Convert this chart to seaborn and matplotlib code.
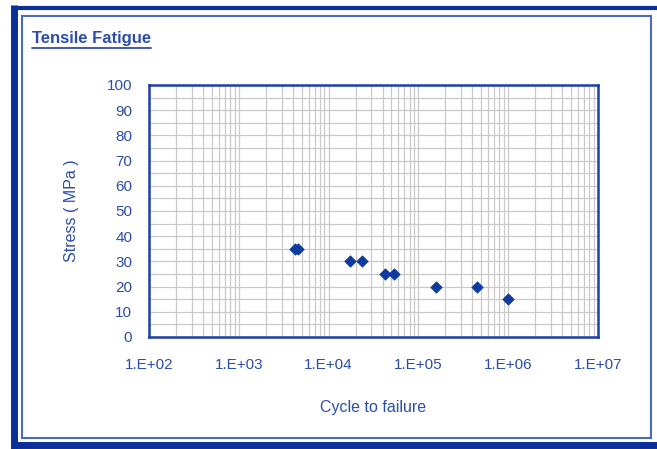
import numpy as np
import pandas as pd
import seaborn as sns
import matplotlib
matplotlib.use("Agg")
import matplotlib.pyplot as plt
from matplotlib.lines import Line2D
from matplotlib.patches import Rectangle
from matplotlib.ticker import FuncFormatter, LogLocator, MultipleLocator

# data
cycles = [4200, 4600, 17500, 23500, 42500, 53500, 156000, 450000, 1000000]
stress = [35, 35, 30, 30, 25, 25, 20, 20, 15]

df = pd.DataFrame({"cycles": cycles, "stress": stress})

blue = "#2c4ea8"
dark = "#1e40a6"

sns.set_style("white")
plt.rcParams["font.family"] = ["Liberation Sans", "DejaVu Sans"]

fig = plt.figure(figsize=(6.57, 4.49), dpi=100)
ax = fig.add_axes([149 / 657, 1 - 337 / 449, (598 - 149) / 657, (337 - 85) / 449])

sns.scatterplot(data=df, x="cycles", y="stress", marker="D", s=34,
                color="#0d3a9e", edgecolor="#0d3a9e", linewidth=0.5, ax=ax, zorder=3)

ax.set_xscale("log")
ax.set_xlim(1e2, 1e7)
ax.set_ylim(0, 100)
ax.xaxis.set_major_locator(LogLocator(base=10))
ax.xaxis.set_minor_locator(LogLocator(base=10, subs=np.arange(2, 10)))
ax.xaxis.set_major_formatter(FuncFormatter(lambda v, p: "1.E+%02d" % int(round(np.log10(v)))))
ax.yaxis.set_major_locator(MultipleLocator(10))
ax.yaxis.set_minor_locator(MultipleLocator(5))

ax.grid(True, which="both", color="#c9c9c9", linewidth=0.9)
ax.set_axisbelow(True)
for s in ax.spines.values():
    s.set_color(dark)
    s.set_linewidth(1.8)

ax.tick_params(axis="both", which="major", direction="in", length=4, width=1,
               color=dark, labelcolor=blue, labelsize=11)
ax.tick_params(axis="x", which="major", pad=15)
ax.tick_params(axis="y", which="major", pad=12)
ax.tick_params(axis="both", which="minor", length=0)

ax.set_xlabel("Cycle to failure", color=blue, fontsize=11.5, labelpad=20)
ax.set_ylabel("Stress ( MPa )", color=blue, fontsize=11.5, labelpad=20)

# frames around the figure
fig.add_artist(Rectangle((22 / 657, 1 - 438 / 449), (651 - 22) / 657, (438 - 16) / 449,
                         transform=fig.transFigure, fill=False, edgecolor="#4a6cc0", linewidth=1.5))
fig.add_artist(Line2D([13.5 / 657, 13.5 / 657], [1 - 5 / 449, 0],
                      transform=fig.transFigure, color="#0a2f9a", linewidth=5,
                      solid_capstyle="butt"))
fig.add_artist(Line2D([11 / 657, 1], [1 - 7.5 / 449, 1 - 7.5 / 449],
                      transform=fig.transFigure, color="#0a2f9a", linewidth=3,
                      solid_capstyle="butt"))
fig.add_artist(Line2D([11 / 657, 1], [1 - 445 / 449, 1 - 445 / 449],
                      transform=fig.transFigure, color="#0a2f9a", linewidth=5,
                      solid_capstyle="butt"))

title = fig.text(32 / 657, 1 - 43 / 449, "Tensile Fatigue", color=blue, fontsize=12,
                 fontweight="bold", va="baseline", ha="left")
fig.canvas.draw()
bb = title.get_window_extent().transformed(fig.transFigure.inverted())
fig.add_artist(Line2D([bb.x0, bb.x1], [bb.y0 - 0.004, bb.y0 - 0.004],
                      transform=fig.transFigure, color=blue, linewidth=1.3))

fig.savefig("out.png", dpi=100)
